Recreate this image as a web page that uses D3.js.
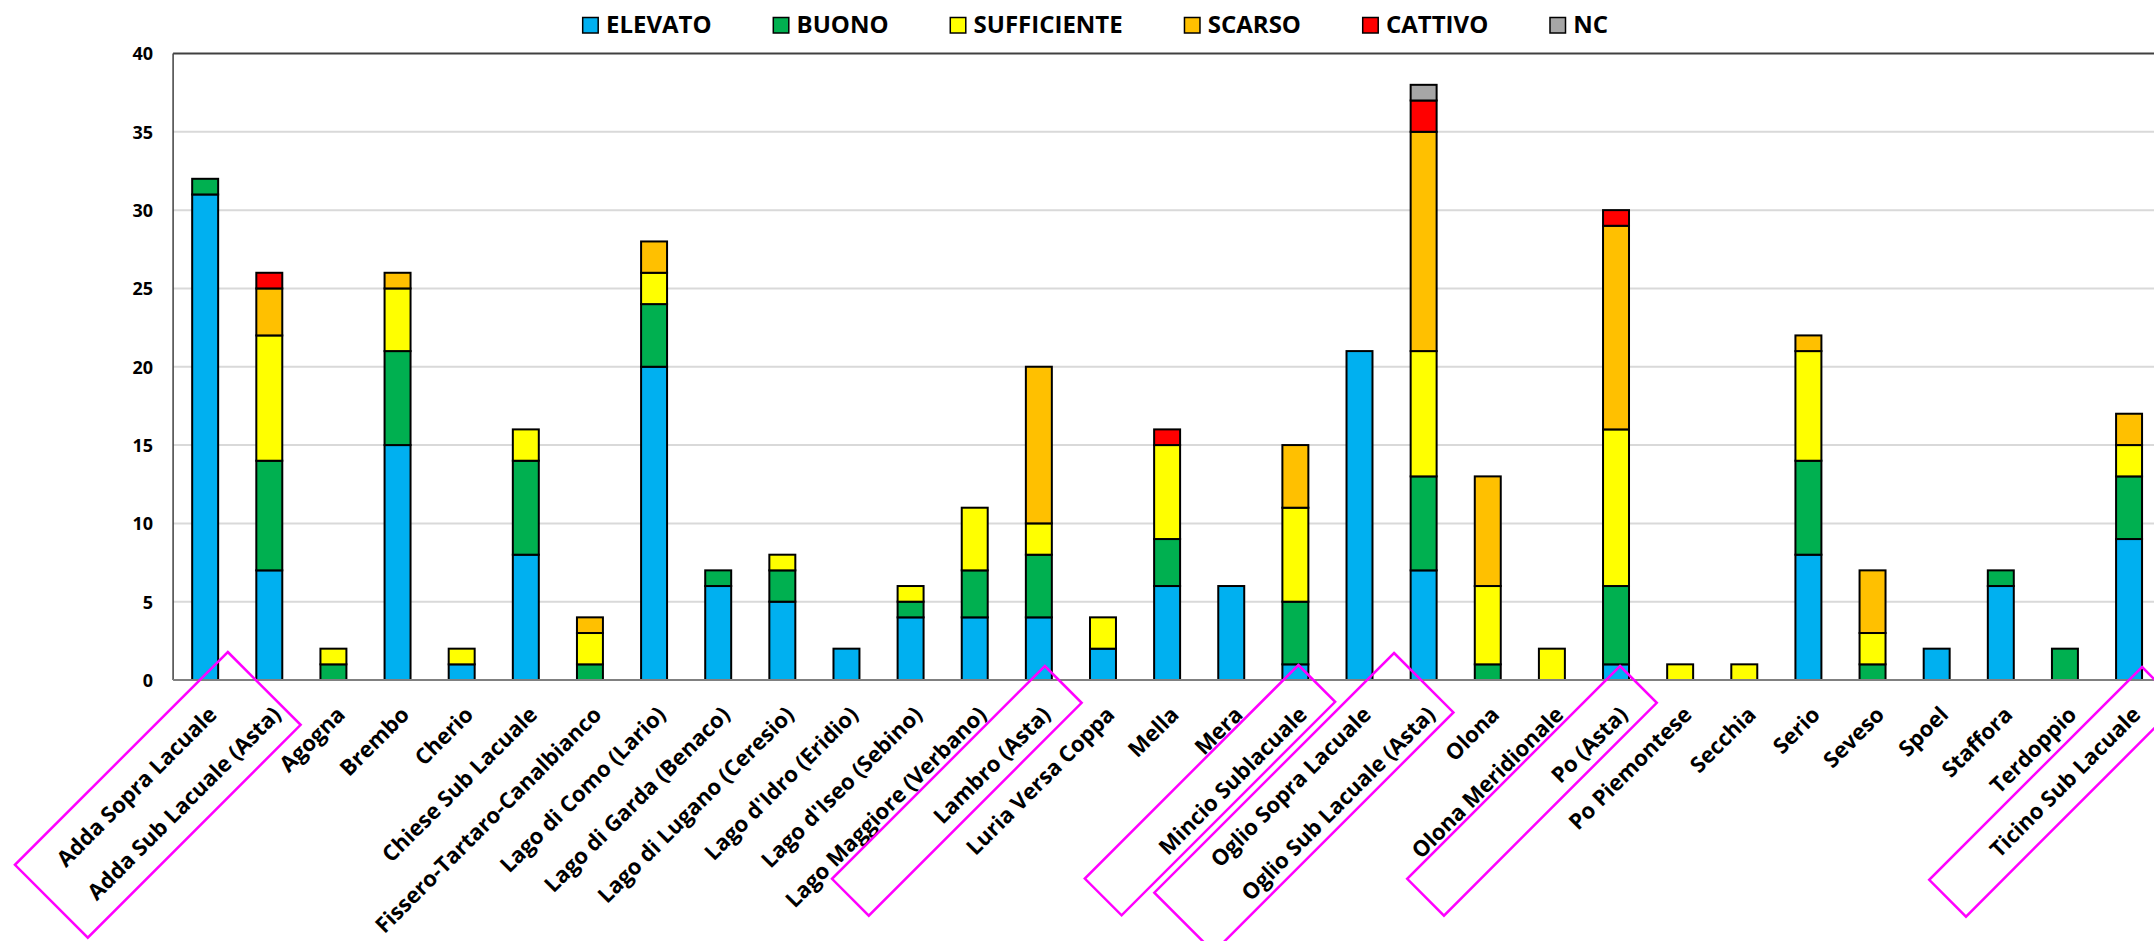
<!DOCTYPE html>
<html>
<head>
<meta charset="utf-8">
<script src="https://cdn.jsdelivr.net/npm/d3@7"></script>
<style>
  html, body { margin: 0; padding: 0; background: #ffffff; }
  svg { display: block; font-family: "Open Sans", "Liberation Sans", sans-serif; }
</style>
</head>
<body>
<svg id="chart" width="2154" height="941"></svg>
<script>
// Water bodies (one bar each)
const categories = [
  "Adda Sopra Lacuale", "Adda Sub Lacuale (Asta)", "Agogna", "Brembo", "Cherio",
  "Chiese Sub Lacuale", "Fissero-Tartaro-Canalbianco", "Lago di Como (Lario)",
  "Lago di Garda (Benaco)", "Lago di Lugano (Ceresio)", "Lago d'Idro (Eridio)",
  "Lago d'Iseo (Sebino)", "Lago Maggiore (Verbano)", "Lambro (Asta)", "Luria Versa Coppa",
  "Mella", "Mera", "Mincio Sublacuale", "Oglio Sopra Lacuale", "Oglio Sub Lacuale (Asta)",
  "Olona", "Olona Meridionale", "Po (Asta)", "Po Piemontese", "Secchia", "Serio",
  "Seveso", "Spoel", "Staffora", "Terdoppio", "Ticino Sub Lacuale"
];

// Quality classes, stacked bottom to top
const seriesNames = ["ELEVATO", "BUONO", "SUFFICIENTE", "SCARSO", "CATTIVO", "NC"];
const seriesColors = ["#00B0F0", "#00B050", "#FFFF00", "#FFC000", "#FF0000", "#A6A6A6"];

const elevato     = [31, 7, 0, 15, 1, 8, 0, 20, 6, 5, 2, 4, 4, 4, 2, 6, 6, 1, 21, 7, 0, 0, 1, 0, 0, 8, 0, 2, 6, 0, 9];
const buono       = [ 1, 7, 1,  6, 0, 6, 1,  4, 1, 2, 0, 1, 3, 4, 0, 3, 0, 4,  0, 6, 1, 0, 5, 0, 0, 6, 1, 0, 1, 2, 4];
const sufficiente = [ 0, 8, 1,  4, 1, 2, 2,  2, 0, 1, 0, 1, 4, 2, 2, 6, 0, 6,  0, 8, 5, 2,10, 1, 1, 7, 2, 0, 0, 0, 2];
const scarso      = [ 0, 3, 0,  1, 0, 0, 1,  2, 0, 0, 0, 0, 0,10, 0, 0, 0, 4,  0,14, 7, 0,13, 0, 0, 1, 4, 0, 0, 0, 2];
const cattivo     = [ 0, 1, 0,  0, 0, 0, 0,  0, 0, 0, 0, 0, 0, 0, 0, 1, 0, 0,  0, 2, 0, 0, 1, 0, 0, 0, 0, 0, 0, 0, 0];
const nc          = [ 0, 0, 0,  0, 0, 0, 0,  0, 0, 0, 0, 0, 0, 0, 0, 0, 0, 0,  0, 1, 0, 0, 0, 0, 0, 0, 0, 0, 0, 0, 0];

const yTicks = [0, 5, 10, 15, 20, 25, 30, 35, 40];

// Labels singled out with a magenta frame
const highlighted = [
  ["Adda Sopra Lacuale", "Adda Sub Lacuale (Asta)"],
  ["Lambro (Asta)"],
  ["Mincio Sublacuale"],
  ["Oglio Sub Lacuale (Asta)"],
  ["Po (Asta)"],
  ["Ticino Sub Lacuale"]
];

// ---- build table for d3.stack ----
const valuesBySeries = [elevato, buono, sufficiente, scarso, cattivo, nc];
const table = categories.map((c, i) => {
  const row = { category: c };
  seriesNames.forEach((s, k) => { row[s] = valuesBySeries[k][i]; });
  return row;
});
const stacked = d3.stack().keys(seriesNames)(table);

// ---- layout ----
const W = 2154, H = 941;
const plot = { left: 173.1, top: 53.5, bottom: 680, step: 64.13 };
plot.right = plot.left + plot.step * categories.length;

const svg = d3.select("#chart");
svg.append("rect").attr("width", W).attr("height", H).attr("fill", "#ffffff");

const x = d3.scaleBand()
  .domain(categories)
  .range([plot.left, plot.right])
  .paddingInner(0.595)
  .paddingOuter(0.2975);

const y = d3.scaleLinear().domain([0, 40]).range([plot.bottom, plot.top]);

// gridlines
svg.append("g")
  .selectAll("line")
  .data(yTicks.filter(t => t > 0 && t < 40))
  .join("line")
  .attr("x1", plot.left).attr("x2", plot.right)
  .attr("y1", d => y(d)).attr("y2", d => y(d))
  .attr("stroke", "#d9d9d9").attr("stroke-width", 2);

// y axis labels
const yAxis = d3.axisLeft(y).tickValues(yTicks).tickSize(0).tickPadding(20).tickFormat(d3.format("d"));
const gy = svg.append("g").attr("transform", `translate(${plot.left},0)`).call(yAxis);
gy.select(".domain").remove();
gy.selectAll("text")
  .attr("font-family", "'Open Sans', sans-serif")
  .attr("font-weight", 700)
  .attr("font-size", 18)
  .attr("fill", "#000")
  .attr("dy", "0.357em");

// plot frame (top + left)
svg.append("line")
  .attr("x1", plot.left).attr("x2", plot.right)
  .attr("y1", plot.top).attr("y2", plot.top)
  .attr("stroke", "#404040").attr("stroke-width", 2);
svg.append("line")
  .attr("x1", plot.left).attr("x2", plot.left)
  .attr("y1", plot.top).attr("y2", plot.bottom)
  .attr("stroke", "#404040").attr("stroke-width", 1.5);

// stacked bars
svg.append("g")
  .selectAll("g")
  .data(stacked)
  .join("g")
  .attr("fill", (d, i) => seriesColors[i])
  .selectAll("rect")
  .data(d => d.filter(p => p[1] > p[0]))
  .join("rect")
  .attr("x", d => x(d.data.category))
  .attr("width", x.bandwidth())
  .attr("y", d => y(d[1]))
  .attr("height", d => y(d[0]) - y(d[1]))
  .attr("stroke", "#000")
  .attr("stroke-width", 2);

// x baseline
svg.append("line")
  .attr("x1", plot.left).attr("x2", plot.right)
  .attr("y1", plot.bottom).attr("y2", plot.bottom)
  .attr("stroke", "#808080").attr("stroke-width", 2);

// x labels, rotated
const center = c => x(c) + x.bandwidth() / 2;
svg.append("g")
  .selectAll("text")
  .data(categories)
  .join("text")
  .attr("transform", d => `translate(${center(d) + 13},${plot.bottom + 36}) rotate(-45)`)
  .attr("text-anchor", "end")
  .attr("font-family", "'Open Sans', sans-serif")
  .attr("font-weight", 700)
  .attr("font-size", 22)
  .attr("fill", "#000")
  .text(d => d);

// magenta frames around selected labels: rectangles tilted along the label direction
const frameGeometry = [
  { dx: -41.5, top: 652, w: 103, len: 301 },
  { dx: 6,     top: 666, w: 52,  len: 301 },
  { dx: 3,     top: 665, w: 52,  len: 302 },
  { dx: -29.6, top: 653, w: 84,  len: 339 },
  { dx: 4,     top: 666, w: 52,  len: 301 },
  { dx: 13,    top: 667, w: 52,  len: 301 }
];
const s2 = Math.SQRT1_2;
svg.append("g")
  .selectAll("path")
  .data(highlighted.map((cats, i) => ({ cats, g: frameGeometry[i] })))
  .join("path")
  .attr("d", ({ cats, g }) => {
    const ax = center(cats[cats.length - 1]) + g.dx, ay = g.top;
    const rx = ax + g.w * s2, ry = ay + g.w * s2;
    const bx = rx - g.len * s2, by = ry + g.len * s2;
    const lx = ax - g.len * s2, ly = ay + g.len * s2;
    return `M${ax},${ay}L${rx},${ry}L${bx},${by}L${lx},${ly}Z`;
  })
  .attr("fill", "none")
  .attr("stroke", "#FF00FF")
  .attr("stroke-width", 2.5);

// legend, centred as a row above the plot
const legend = svg.append("g");
let lx = 0;
seriesNames.forEach((name, i) => {
  const g = legend.append("g").attr("transform", `translate(${lx},0)`);
  g.append("rect")
    .attr("x", 0.75).attr("y", 17.5).attr("width", 15.5).attr("height", 15.5)
    .attr("fill", seriesColors[i]).attr("stroke", "#000").attr("stroke-width", 1.5);
  const t = g.append("text")
    .attr("x", 24).attr("y", 33)
    .attr("font-family", "'Open Sans', sans-serif")
    .attr("font-weight", 700)
    .attr("font-size", 24)
    .attr("fill", "#000")
    .text(name);
  const tw = t.node().getComputedTextLength();
  lx += 24 + tw + (i < seriesNames.length - 1 ? 61 : 0);
});
legend.attr("transform", `translate(${1095 - lx / 2},0)`);
</script>
</body>
</html>
